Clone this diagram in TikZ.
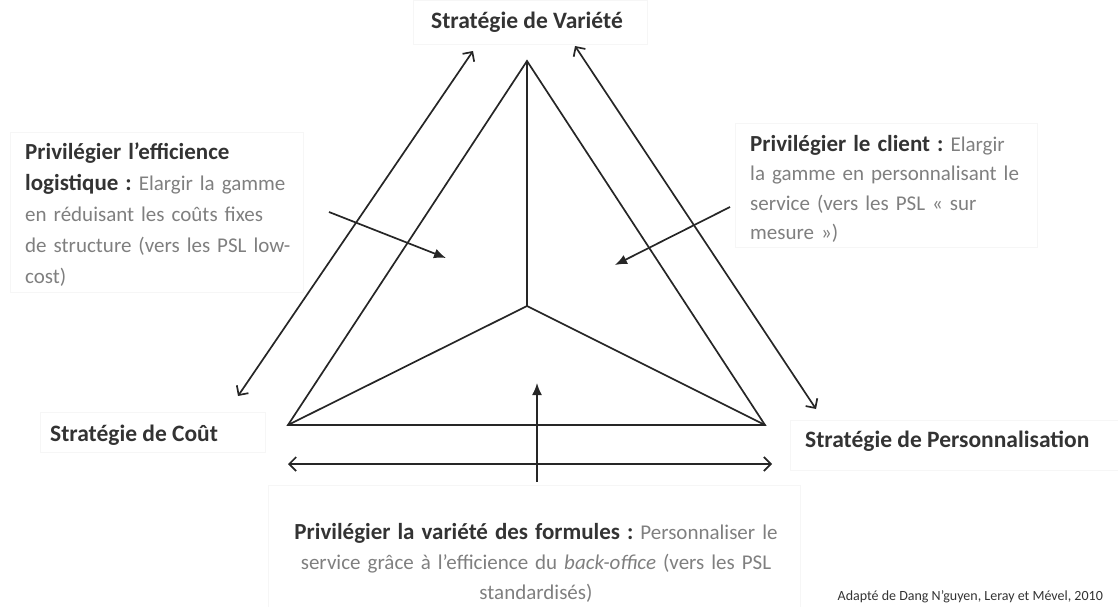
\documentclass[tikz,border=0pt]{standalone}
\usepackage{fontspec}
\setmainfont{Carlito}
\usetikzlibrary{arrows.meta}

\definecolor{inkline}{HTML}{262626}
\definecolor{headgray}{HTML}{333333}
\definecolor{bodygray}{HTML}{7F7F7F}
\definecolor{framegray}{HTML}{F6F6F6}

\newcommand{\chapeau}[1]{{\fontsize{23}{23}\selectfont\bfseries\color{headgray}#1}}

\begin{document}
\frenchspacing
\begin{tikzpicture}[x=1pt,y=-1pt,
    axe/.style={line width=1.7pt,draw=inkline,
        {Straight Barb[length=7pt,width=14pt]}-{Straight Barb[length=7pt,width=14pt]}},
    pousse/.style={line width=1.7pt,draw=inkline,-{Latex[length=12pt,width=10pt]}},
    pole/.style={font=\fontsize{23.5}{28}\selectfont\bfseries,text=headgray,inner sep=0pt},
    encadre/.style={font=\fontsize{21}{31}\selectfont,text=bodygray,inner sep=0pt},
    cadre/.style={draw=framegray,line width=0.8pt}]

    \useasboundingbox (0,0) rectangle (1118,607);

    % faint frames of the text boxes
    \draw[cadre] (413,0) rectangle (647,44);
    \draw[cadre] (40,412) rectangle (265,452);
    \draw[cadre] (790,420) rectangle (1118,470);
    \draw[cadre] (10,132) rectangle (303,292);
    \draw[cadre] (735,123) rectangle (1037,247);
    \draw[cadre] (268,485) rectangle (800,607);

    % the triangle and its three sectors
    \coordinate (sommet) at (527,61);
    \coordinate (coinG) at (288,425);
    \coordinate (coinD) at (765,425);
    \coordinate (centre) at (527,306);
    \draw[line width=1.7pt,draw=inkline,line join=miter]
        (sommet) -- (coinD) -- (coinG) -- cycle;
    \draw[line width=1.7pt,draw=inkline]
        (sommet) -- (centre) (coinG) -- (centre) -- (coinD);

    % poles
    \node[pole,anchor=base] (variete) at (527,29) {Stratégie de Variété};
    \node[pole,anchor=base west] (cout) at (50,441) {Stratégie de Coût};
    \node[pole,anchor=base west] (perso) at (805,447) {Stratégie de Personnalisation};

    % double arrows along the sides
    \coordinate (gBas) at (238,396);
    \coordinate (gHaut) at (473,51);
    \coordinate (dHaut) at (575,46);
    \coordinate (dBas) at (816,409);
    \coordinate (hG) at (288,464);
    \coordinate (hD) at (772,464);
    \draw[axe] (gBas) -- (gHaut);
    \draw[axe] (dHaut) -- (dBas);
    \draw[axe] (hG) -- (hD);

    % explanations
    \node[encadre,anchor=base west,text width=290pt,align=left] (logistique) at (25,159)
        {\chapeau{Privilégier l’efficience}\\
        \chapeau{logistique :} Elargir la gamme\\
        en réduisant les coûts fixes\\
        de structure (vers les PSL low-\\
        cost)};
    \node[encadre,anchor=base west,text width=290pt,align=left,
        font=\fontsize{21}{29.5}\selectfont] (client) at (750,151)
        {\chapeau{Privilégier le client :} Elargir\\
        la gamme en personnalisant le\\
        service (vers les PSL « sur\\
        mesure »)};
    \node[encadre,anchor=base,text width=530pt,align=center,
        font=\fontsize{21}{30}\selectfont] (formules) at (536,539)
        {\chapeau{Privilégier la variété des formules :} Personnaliser le\\
        service grâce à l’efficience du \textit{back-office} (vers les PSL\\
        standardisés)};

    % pointers into the sectors
    \coordinate (eG) at (329,212);
    \coordinate (cG) at (446,258);
    \coordinate (eD) at (730,207);
    \coordinate (cD) at (615,265);
    \coordinate (eB) at (537,482);
    \coordinate (cB) at (537,383);
    \draw[pousse] (eG) -- (cG);
    \draw[pousse] (eD) -- (cD);
    \draw[pousse] (eB) -- (cB);

    \node[font=\fontsize{14}{17}\selectfont,text=headgray,inner sep=0pt,anchor=base east]
        (source) at (1103,600) {Adapté de Dang N’guyen, Leray et Mével, 2010};
\end{tikzpicture}
\end{document}
